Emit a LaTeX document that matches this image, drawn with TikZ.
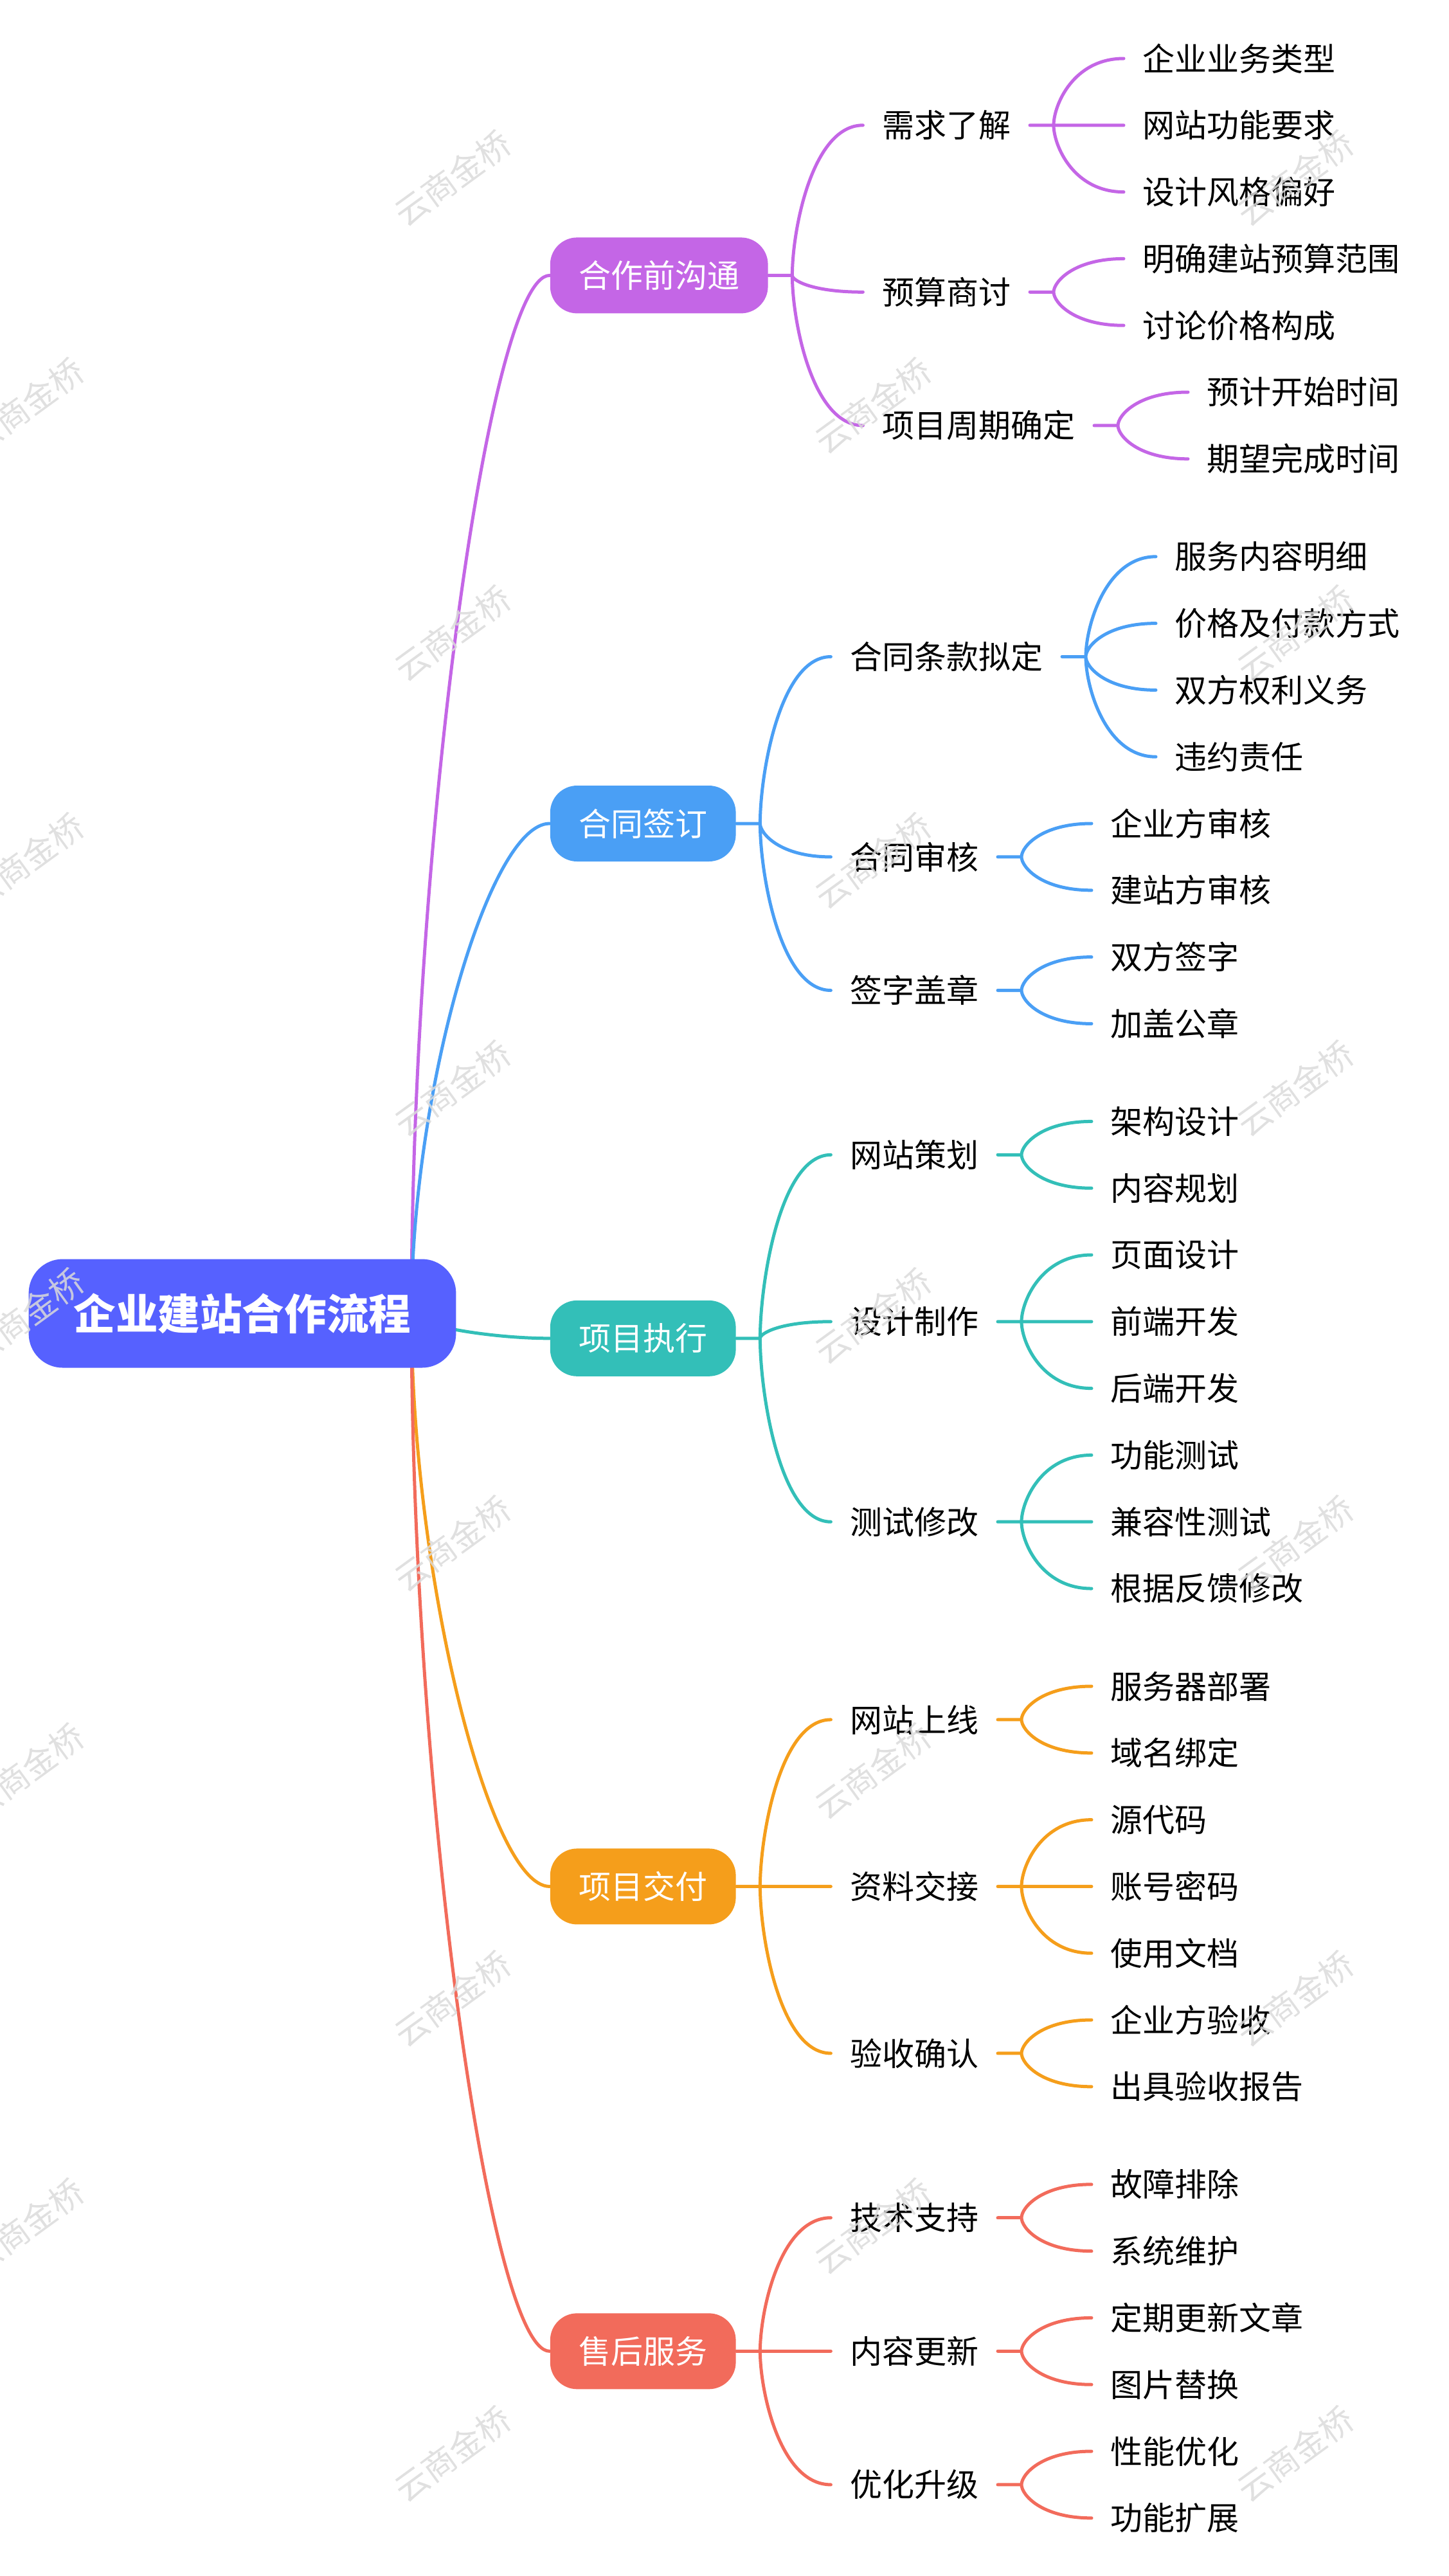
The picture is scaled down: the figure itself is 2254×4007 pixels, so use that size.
\documentclass[tikz,border=0pt]{standalone}
\usepackage{fontspec}
\newfontfamily\cjk{Noto Sans CJK SC}
\usetikzlibrary{calc}
\definecolor{cRoot}{HTML}{5661FF}
\definecolor{cTalk}{HTML}{C466E6}
\definecolor{cSign}{HTML}{4A9FF5}
\definecolor{cBuild}{HTML}{33BFB8}
\definecolor{cHand}{HTML}{F59E1B}
\definecolor{cCare}{HTML}{F26B5B}
\definecolor{cStamp}{HTML}{DADADA}
\tikzstyle{rootbox} = [rectangle, rounded corners=13.25pt, fill=cRoot, text=white, minimum height=42.25pt, inner xsep=17.5pt, font=\cjk\bfseries\fontsize{16.4}{20}\selectfont]
\tikzstyle{topic} = [rectangle, rounded corners=10.5pt, text=white, anchor=west, minimum height=29.5pt, inner xsep=11.1pt, font=\cjk\fontsize{12.5}{15}\selectfont]
\tikzstyle{item} = [anchor=west, inner xsep=7.25pt, inner ysep=1pt, text=black, font=\cjk\fontsize{12.5}{15}\selectfont]
\tikzstyle{trunk} = [line width=1.25pt, line cap=round, to path={.. controls ($(\tikztostart)!0.45!(\tikztostart|-\tikztotarget)$) and ($(\tikztotarget)!0.44!(\tikztostart|-\tikztotarget)$) .. (\tikztotarget)}]
\tikzstyle{twig} = [line width=1.25pt, line cap=round, to path={.. controls ($(\tikztostart)!0.3!(\tikztostart|-\tikztotarget)$) and ($(\tikztotarget)!0.72!(\tikztostart|-\tikztotarget)$) .. (\tikztotarget)}]
\tikzstyle{stamp} = [text=cStamp, opacity=0.85, rotate=36, font=\cjk\fontsize{13}{15}\selectfont]

\begin{document}
\begin{tikzpicture}[x=0.25pt, y=-0.25pt]
    \useasboundingbox (0,0) rectangle (2254,4007);
    % main topics
    \node[topic, fill=cTalk] (talk) at (855,428.4) {合作前沟通};
    \node[topic, fill=cSign] (sign) at (855,1281) {合同签订};
    \node[topic, fill=cBuild] (build) at (855,2081.8) {项目执行};
    \node[topic, fill=cHand] (hand) at (855,2934.4) {项目交付};
    \node[topic, fill=cCare] (care) at (855,3657.3) {售后服务};
    \coordinate (talkh) at ($(talk.east)+(37,0)$);
    \coordinate (signh) at ($(sign.east)+(37,0)$);
    \coordinate (buildh) at ($(build.east)+(37,0)$);
    \coordinate (handh) at ($(hand.east)+(37,0)$);
    \coordinate (careh) at ($(care.east)+(37,0)$);

    % subtopics
    \node[item] (need) at ($(talkh)+(110,-233.6)$) {需求了解};
    \node[item] (budget) at ($(talkh)+(110,25.9)$) {预算商讨};
    \node[item] (period) at ($(talkh)+(110,233.5)$) {项目周期确定};
    \node[item] (terms) at ($(signh)+(110,-259.5)$) {合同条款拟定};
    \node[item] (review) at ($(signh)+(110,51.9)$) {合同审核};
    \node[item] (seal) at ($(signh)+(110,259.5)$) {签字盖章};
    \node[item] (plan) at ($(buildh)+(110,-285.5)$) {网站策划};
    \node[item] (make) at ($(buildh)+(110,-26)$) {设计制作};
    \node[item] (test) at ($(buildh)+(110,285.4)$) {测试修改};
    \node[item] (launch) at ($(handh)+(110,-259.5)$) {网站上线};
    \node[item] (docs) at ($(handh)+(110,0)$) {资料交接};
    \node[item] (accept) at ($(handh)+(110,259.5)$) {验收确认};
    \node[item] (tech) at ($(careh)+(110,-207.6)$) {技术支持};
    \node[item] (update) at ($(careh)+(110,0)$) {内容更新};
    \node[item] (upgrade) at ($(careh)+(110,207.6)$) {优化升级};
    \foreach \n in {need,budget,period,terms,review,seal,plan,make,test,launch,docs,accept,tech,update,upgrade}
        \coordinate (\n h) at ($(\n.east)+(37,0)$);

    % leaves
    \node[item] (need1) at ($(needh)+(109,-103.8)$) {企业业务类型};
    \node[item] (need2) at ($(needh)+(109,0)$) {网站功能要求};
    \node[item] (need3) at ($(needh)+(109,103.8)$) {设计风格偏好};
    \node[item] (budget1) at ($(budgeth)+(109,-51.9)$) {明确建站预算范围};
    \node[item] (budget2) at ($(budgeth)+(109,51.9)$) {讨论价格构成};
    \node[item] (period1) at ($(periodh)+(109,-51.9)$) {预计开始时间};
    \node[item] (period2) at ($(periodh)+(109,51.9)$) {期望完成时间};
    \node[item] (terms1) at ($(termsh)+(109,-155.7)$) {服务内容明细};
    \node[item] (terms2) at ($(termsh)+(109,-51.9)$) {价格及付款方式};
    \node[item] (terms3) at ($(termsh)+(109,51.9)$) {双方权利义务};
    \node[item] (terms4) at ($(termsh)+(109,155.7)$) {违约责任};
    \node[item] (review1) at ($(reviewh)+(109,-51.9)$) {企业方审核};
    \node[item] (review2) at ($(reviewh)+(109,51.9)$) {建站方审核};
    \node[item] (seal1) at ($(sealh)+(109,-51.9)$) {双方签字};
    \node[item] (seal2) at ($(sealh)+(109,51.9)$) {加盖公章};
    \node[item] (plan1) at ($(planh)+(109,-51.9)$) {架构设计};
    \node[item] (plan2) at ($(planh)+(109,51.9)$) {内容规划};
    \node[item] (make1) at ($(makeh)+(109,-103.8)$) {页面设计};
    \node[item] (make2) at ($(makeh)+(109,0)$) {前端开发};
    \node[item] (make3) at ($(makeh)+(109,103.8)$) {后端开发};
    \node[item] (test1) at ($(testh)+(109,-103.8)$) {功能测试};
    \node[item] (test2) at ($(testh)+(109,0)$) {兼容性测试};
    \node[item] (test3) at ($(testh)+(109,103.8)$) {根据反馈修改};
    \node[item] (launch1) at ($(launchh)+(109,-51.9)$) {服务器部署};
    \node[item] (launch2) at ($(launchh)+(109,51.9)$) {域名绑定};
    \node[item] (docs1) at ($(docsh)+(109,-103.8)$) {源代码};
    \node[item] (docs2) at ($(docsh)+(109,0)$) {账号密码};
    \node[item] (docs3) at ($(docsh)+(109,103.8)$) {使用文档};
    \node[item] (accept1) at ($(accepth)+(109,-51.9)$) {企业方验收};
    \node[item] (accept2) at ($(accepth)+(109,51.9)$) {出具验收报告};
    \node[item] (tech1) at ($(techh)+(109,-51.9)$) {故障排除};
    \node[item] (tech2) at ($(techh)+(109,51.9)$) {系统维护};
    \node[item] (update1) at ($(updateh)+(109,-51.9)$) {定期更新文章};
    \node[item] (update2) at ($(updateh)+(109,51.9)$) {图片替换};
    \node[item] (upgrade1) at ($(upgradeh)+(109,-51.9)$) {性能优化};
    \node[item] (upgrade2) at ($(upgradeh)+(109,51.9)$) {功能扩展};

    % connectors
    \coordinate (hub) at (640,2043);
    \draw[trunk, cTalk] (hub) to (talk.west);
    \draw[trunk, cSign] (hub) to (sign.west);
    \draw[trunk, cBuild] (hub) to (build.west);
    \draw[trunk, cHand] (hub) to (hand.west);
    \draw[trunk, cCare] (hub) to (care.west);
    \draw[twig, cTalk] (talk.east) -- (talkh) to (need.west) (talkh) to (budget.west) (talkh) to (period.west);
    \draw[twig, cTalk] (need.east) -- (needh) to (need1.west) (needh) to (need2.west) (needh) to (need3.west);
    \draw[twig, cTalk] (budget.east) -- (budgeth) to (budget1.west) (budgeth) to (budget2.west);
    \draw[twig, cTalk] (period.east) -- (periodh) to (period1.west) (periodh) to (period2.west);
    \draw[twig, cSign] (sign.east) -- (signh) to (terms.west) (signh) to (review.west) (signh) to (seal.west);
    \draw[twig, cSign] (terms.east) -- (termsh) to (terms1.west) (termsh) to (terms2.west) (termsh) to (terms3.west) (termsh) to (terms4.west);
    \draw[twig, cSign] (review.east) -- (reviewh) to (review1.west) (reviewh) to (review2.west);
    \draw[twig, cSign] (seal.east) -- (sealh) to (seal1.west) (sealh) to (seal2.west);
    \draw[twig, cBuild] (build.east) -- (buildh) to (plan.west) (buildh) to (make.west) (buildh) to (test.west);
    \draw[twig, cBuild] (plan.east) -- (planh) to (plan1.west) (planh) to (plan2.west);
    \draw[twig, cBuild] (make.east) -- (makeh) to (make1.west) (makeh) to (make2.west) (makeh) to (make3.west);
    \draw[twig, cBuild] (test.east) -- (testh) to (test1.west) (testh) to (test2.west) (testh) to (test3.west);
    \draw[twig, cHand] (hand.east) -- (handh) to (launch.west) (handh) to (docs.west) (handh) to (accept.west);
    \draw[twig, cHand] (launch.east) -- (launchh) to (launch1.west) (launchh) to (launch2.west);
    \draw[twig, cHand] (docs.east) -- (docsh) to (docs1.west) (docsh) to (docs2.west) (docsh) to (docs3.west);
    \draw[twig, cHand] (accept.east) -- (accepth) to (accept1.west) (accepth) to (accept2.west);
    \draw[twig, cCare] (care.east) -- (careh) to (tech.west) (careh) to (update.west) (careh) to (upgrade.west);
    \draw[twig, cCare] (tech.east) -- (techh) to (tech1.west) (techh) to (tech2.west);
    \draw[twig, cCare] (update.east) -- (updateh) to (update1.west) (updateh) to (update2.west);
    \draw[twig, cCare] (upgrade.east) -- (upgradeh) to (upgrade1.west) (upgradeh) to (upgrade2.west);

    % central topic on top of the trunks
    \node[rootbox] (root) at (377,2043) {企业建站合作流程};

    % watermark
    \foreach \wy in {277,985,...,3817} {
        \node[stamp] (stampa\wy) at (704,\wy) {云商金桥};
        \node[stamp] (stampb\wy) at (2015,\wy) {云商金桥};
    }
    \foreach \wy in {631,1339,...,3463} {
        \node[stamp] (stampc\wy) at (40,\wy) {云商金桥};
        \node[stamp] (stampd\wy) at (1358,\wy) {云商金桥};
    }
\end{tikzpicture}
\end{document}
